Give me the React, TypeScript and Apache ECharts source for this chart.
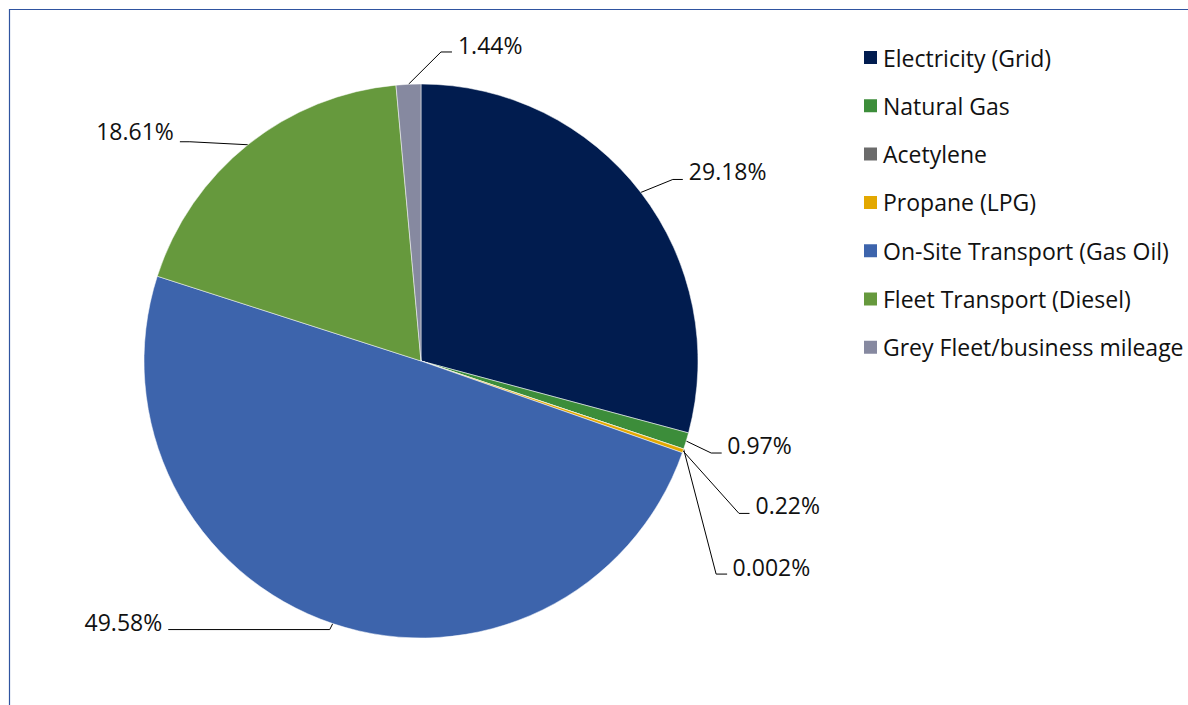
import React, { useEffect, useRef } from "react";
import * as echarts from "echarts";

const categories = [
  "Electricity (Grid)",
  "Natural Gas",
  "Acetylene",
  "Propane (LPG)",
  "On-Site Transport (Gas Oil)",
  "Fleet Transport (Diesel)",
  "Grey Fleet/business mileage",
];
const shares = [29.18, 0.97, 0.002, 0.22, 49.58, 18.61, 1.44];
const labels = ["29.18%", "0.97%", "0.002%", "0.22%", "49.58%", "18.61%", "1.44%"];
const colors = ["#011C4F", "#3C8D3A", "#6B6B6B", "#E3A800", "#3D64AC", "#66993D", "#8689A0"];

// leader-line styling: elbow offset from slice edge, horizontal run, side, text offset
const placement = [
  { ex: 32, ey: -13, h: 10, side: 1, gap: 6, ty: -8.5 },
  { ex: 25, ey: 12, h: 10.5, side: 1, gap: 5.5, ty: -8 },
  { ex: 32.5, ey: 125, h: 11, side: 1, gap: 5.5, ty: -7.5 },
  { ex: 56, ey: 62.5, h: 10.5, side: 1, gap: 6, ty: -8.3 },
  { ex: -3, ey: 6, h: 161.5, side: -1, gap: 6, ty: -7.6 },
  { ex: -58, ey: -3, h: 10, side: -1, gap: 6, ty: -11 },
  { ex: 32.5, ey: -32.3, h: 11, side: 1, gap: 6, ty: -7 },
];

const FONT = "'Open Sans', 'Noto Sans', sans-serif";

export default function App() {
  const ref = useRef<HTMLDivElement>(null);
  useEffect(() => {
    if (!ref.current) return;
    const chart = echarts.init(ref.current, undefined, { renderer: "svg" });
    chart.setOption({
      animation: false,
      backgroundColor: "#ffffff",
      graphic: [
        {
          type: "rect",
          shape: { x: 9.5, y: 9.5, width: 1400, height: 900 },
          style: { fill: "none", stroke: "#2F54A0", lineWidth: 1.2 },
          silent: true,
        },
      ],
      legend: {
        orient: "vertical",
        left: 857,
        top: 41,
        itemWidth: 15,
        itemHeight: 15,
        itemGap: 25.3,
        icon: "rect",
        textStyle: { fontFamily: FONT, fontSize: 23, color: "#111" },
        data: categories,
      },
      series: [
        {
          type: "pie",
          center: [421, 361],
          radius: 277,
          startAngle: 90,
          clockwise: true,
          avoidLabelOverlap: false,
          itemStyle: { borderColor: "#ffffff", borderWidth: 0.5 },
          emphasis: { disabled: true },
          label: {
            show: true,
            position: "outside",
            overflow: "none",
            fontFamily: FONT,
            fontSize: 23,
            color: "#111",
            formatter: (p: any) => labels[p.dataIndex],
          },
          labelLine: {
            show: true,
            length: 15,
            length2: 10,
            lineStyle: { color: "#000", width: 1 },
          },
          labelLayout: (params: any) => {
            const i = params.dataIndex;
            const pts = params.labelLinePoints;
            if (!pts) return {};
            const pl = placement[i];
            const p0 = pts[0];
            const ex = p0[0] + pl.ex;
            const ey = p0[1] + pl.ey;
            const endX = ex + pl.side * pl.h;
            return {
              x: endX + pl.side * pl.gap,
              y: ey + pl.ty,
              align: pl.side > 0 ? "left" : "right",
              verticalAlign: "middle",
              labelLinePoints: [
                [p0[0], p0[1]],
                [ex, ey],
                [endX, ey],
              ],
            };
          },
          data: categories.map((name, i) => ({
            name,
            value: shares[i],
            itemStyle: { color: colors[i] },
          })),
        },
      ],
    });
    return () => chart.dispose();
  }, []);
  return (
    <div
      ref={ref}
      style={{ position: "fixed", left: 0, top: 0, width: 1188, height: 705 }}
    />
  );
}
